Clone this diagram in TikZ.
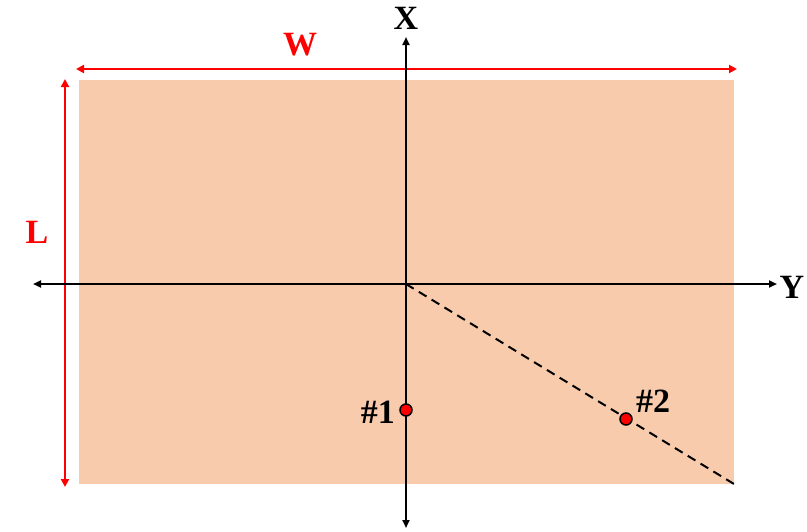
\documentclass[tikz,border=0pt]{standalone}
\usepackage{fontspec}
\setmainfont{Liberation Serif}
\usetikzlibrary{arrows.meta}
\definecolor{peach}{HTML}{F8CBAD}
\begin{document}
\begin{tikzpicture}[x=1pt,y=-1pt,
  axis/.style={draw=black,line width=2pt,{Triangle[length=8pt,width=7pt]}-{Triangle[length=8pt,width=7pt]}},
  dim/.style={draw=red,line width=2.6pt,{Triangle[length=8pt,width=8pt]}-{Triangle[length=8pt,width=8pt]}},
  lbl/.style={font=\fontsize{34}{34}\selectfont\bfseries,inner sep=0pt},
  pt/.style={circle,draw=black,fill=red,line width=1.5pt,minimum size=12pt,inner sep=0pt}]
\useasboundingbox (0,0) rectangle (807,531);
\fill[peach] (79,80) rectangle (734,484);
\coordinate (wl) at (76,69);
\coordinate (wr) at (737,69);
\coordinate (lt) at (65,79);
\coordinate (lb) at (65,487);
\draw[dim] (wl) -- (wr);
\draw[dim] (lt) -- (lb);
\node[lbl,text=red] (W) at (300,45) {W};
\node[lbl,text=red] (L) at (37,232) {L};
\coordinate (o) at (406,284);
\coordinate (xb) at (406,528);
\coordinate (xt) at (406,37);
\coordinate (yl) at (33,284);
\coordinate (yr) at (777,284);
\draw[axis] (xb) -- (xt);
\draw[axis] (yl) -- (yr);
\node[lbl] (X) at (406,18) {X};
\node[lbl] (Y) at (792,287) {Y};
\coordinate (de) at (734,484);
\draw[line width=2pt,dash pattern=on 9pt off 6pt] (o) -- (de);
\node[pt] (p1) at (406,410) {};
\node[pt] (p2) at (626,419) {};
\node[lbl,anchor=east] (t1) at (395,412) {\#1};
\node[lbl] (t2) at (653,401) {\#2};
\end{tikzpicture}
\end{document}
